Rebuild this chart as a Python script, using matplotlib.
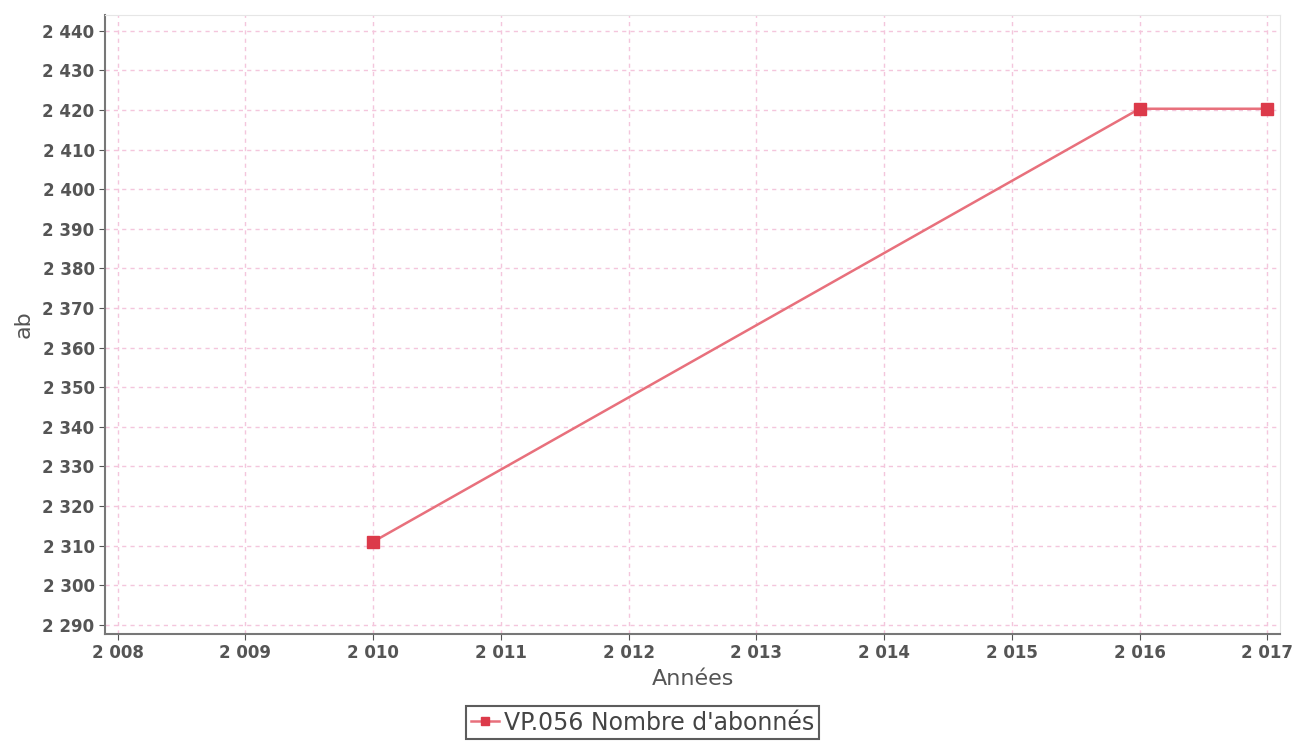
import matplotlib.pyplot as plt
from matplotlib.ticker import FuncFormatter, MultipleLocator

# data
years = [2010, 2016, 2017]
abonnes = [2311, 2420.3, 2420.3]
series_name = "VP.056 Nombre d'abonnés"

fig = plt.figure(figsize=(12.93, 7.43), dpi=100)
ax = fig.add_axes([0.0812, 0.1467, 0.9088, 0.8333])

ax.plot(years, abonnes, color="#e8707c", lw=1.8, marker="s", markersize=9,
        markerfacecolor="#dc3a4a", markeredgecolor="#dc3a4a", label=series_name)

ax.set_xlim(2007.9, 2017.1)
ax.set_ylim(2287.7, 2444)
ax.xaxis.set_major_locator(MultipleLocator(1))
ax.yaxis.set_major_locator(MultipleLocator(10))

fmt = FuncFormatter(lambda v, p: "{:,.0f}".format(v).replace(",", " "))
ax.xaxis.set_major_formatter(fmt)
ax.yaxis.set_major_formatter(fmt)

ax.grid(True, color="#f4c6dc", linestyle=(0, (3, 3)), lw=1.0)
ax.tick_params(colors="#555555", labelsize=12, length=4, direction="out")
for lab in ax.get_xticklabels() + ax.get_yticklabels():
    lab.set_fontweight("bold")

ax.spines["left"].set_color("#777777")
ax.spines["bottom"].set_color("#777777")
ax.spines["left"].set_linewidth(1.5)
ax.spines["bottom"].set_linewidth(1.5)
ax.spines["top"].set_color("#e6e6e6")
ax.spines["right"].set_color("#e6e6e6")

ax.set_xlabel("Années", fontsize=16, color="#555555", labelpad=5)
ax.set_ylabel("ab", fontsize=16, color="#555555", labelpad=6)

leg = fig.legend(loc="upper center", bbox_to_anchor=(0.497, 0.05), fontsize=17,
                 frameon=True, fancybox=False, edgecolor="#333333",
                 handlelength=1.2, handletextpad=0.2, borderpad=0.2,
                 borderaxespad=0.0, markerscale=0.7)
leg.get_frame().set_linewidth(1.5)
for t in leg.get_texts():
    t.set_color("#444444")

plt.savefig("out.png", dpi=100)
